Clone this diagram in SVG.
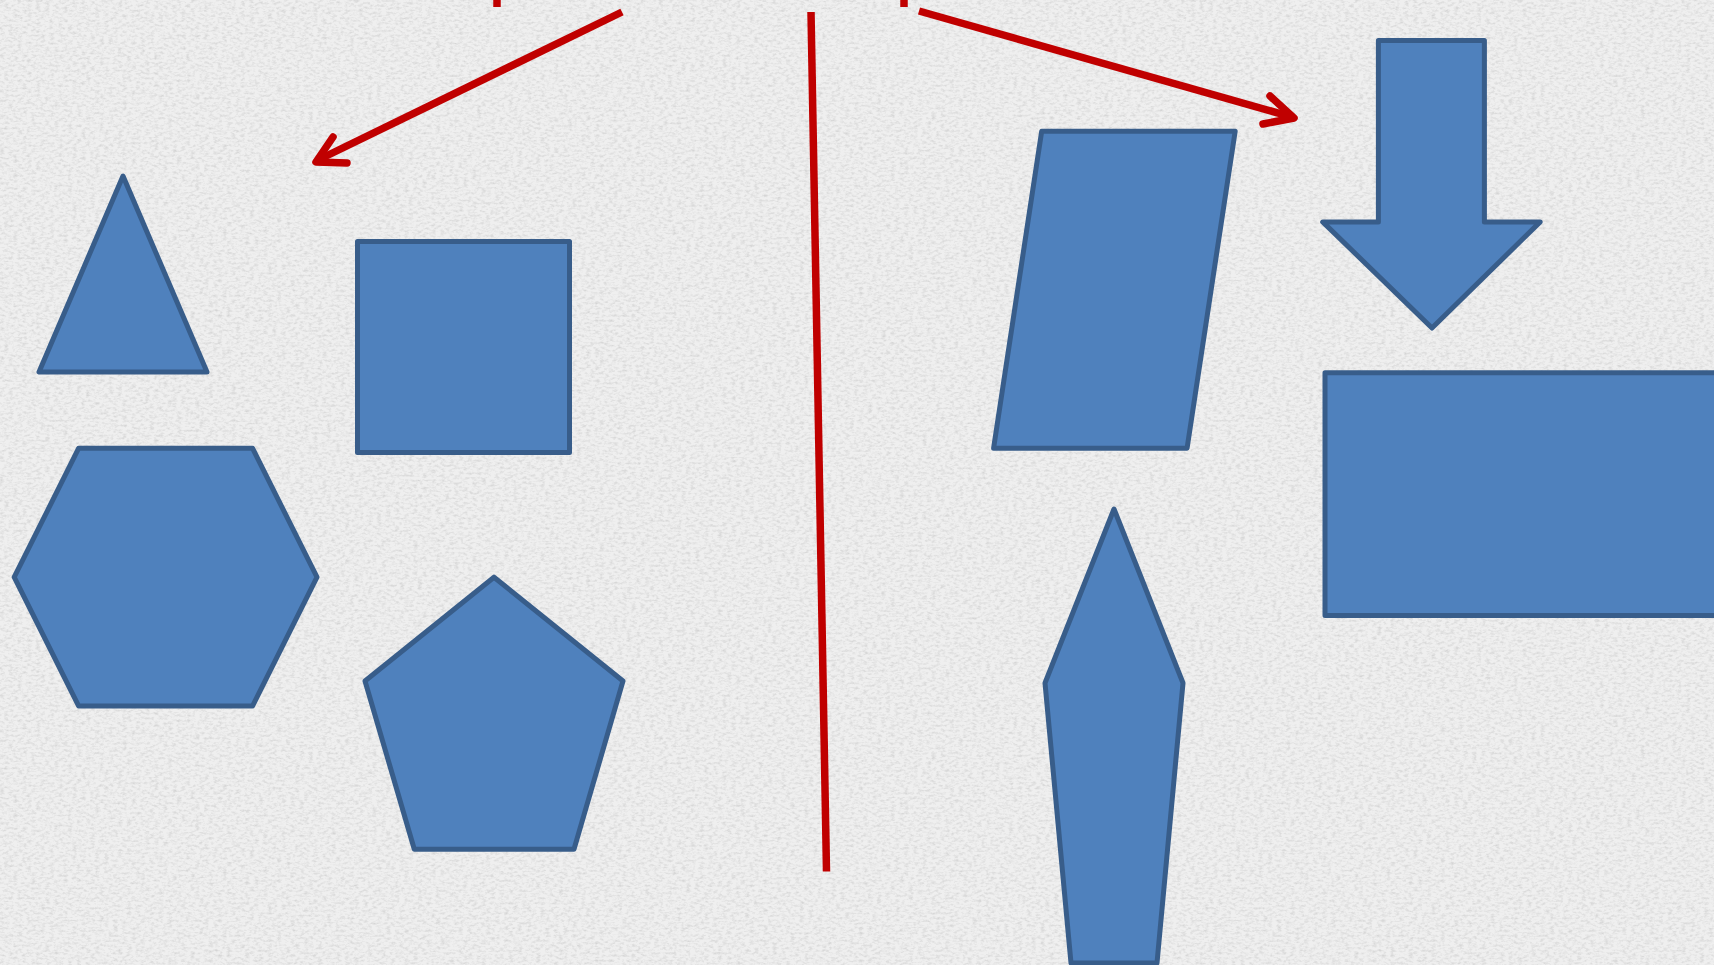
<svg xmlns="http://www.w3.org/2000/svg" width="1714" height="965" viewBox="0 0 1714 965">
<defs>
<style>
.shape{fill:#4F81BD;stroke:#385D8A;stroke-width:5;stroke-linejoin:round}
.red{stroke:#C00000;stroke-width:7.5;fill:none;stroke-linecap:butt}
.redhead{stroke:#C00000;stroke-width:7.5;fill:none;stroke-linecap:round;stroke-linejoin:round}
</style>
<filter id="noise" x="0" y="0" width="100%" height="100%">
<feTurbulence type="fractalNoise" baseFrequency="0.22 0.4" numOctaves="3" seed="4" result="t"/>
<feColorMatrix in="t" type="matrix" values="0 0 0 0 0.6  0 0 0 0 0.6  0 0 0 0 0.6  0 0 0 -2.2 1.25" result="c"/>
<feComposite in="c" in2="SourceGraphic" operator="in"/>
</filter>
</defs>
<rect width="1714" height="965" fill="#EFEFEF"/>
<rect width="1714" height="965" fill="#EFEFEF" filter="url(#noise)" opacity="0.7"/>
<g id="triangle"><polygon class="shape" points="123,176 39,372 207,372"/></g>
<g id="square"><rect class="shape" x="357.5" y="241.5" width="212" height="211"/></g>
<g id="hexagon"><polygon class="shape" points="78.7,448.2 252.5,448.2 317,577.2 252.5,706.1 78.7,706.1 14.2,577.2"/></g>
<g id="pentagon"><polygon class="shape" points="494,577.2 623,681 574,849.3 414.3,849.3 365,681"/></g>
<g id="parallelogram"><polygon class="shape" points="1041.7,131.2 1235.2,131.2 1187.1,448.2 993.6,448.2"/></g>
<g id="down-arrow"><polygon class="shape" points="1378.4,40.4 1484.4,40.4 1484.4,221.9 1540.2,221.9 1432,328 1322.7,221.9 1378.4,221.9"/></g>
<g id="rectangle"><rect class="shape" x="1325" y="372.7" width="400" height="242.7"/></g>
<g id="kite"><polygon class="shape" points="1114,509 1183,683 1157,963 1071,963 1045,683"/></g>
<g id="connectors">
<line class="red" x1="811" y1="12" x2="826.5" y2="871.5"/>
<line class="red" x1="497" y1="0" x2="497" y2="7"/>
<line class="red" x1="904" y1="0" x2="904" y2="7"/>
<line class="red" x1="622" y1="12" x2="318" y2="160"/>
<polyline class="redhead" points="333,137 316,162 347,163"/>
<line class="red" x1="919" y1="11" x2="1292" y2="117"/>
<polyline class="redhead" points="1270,96 1294,118 1263,124"/>
</g>
</svg>
